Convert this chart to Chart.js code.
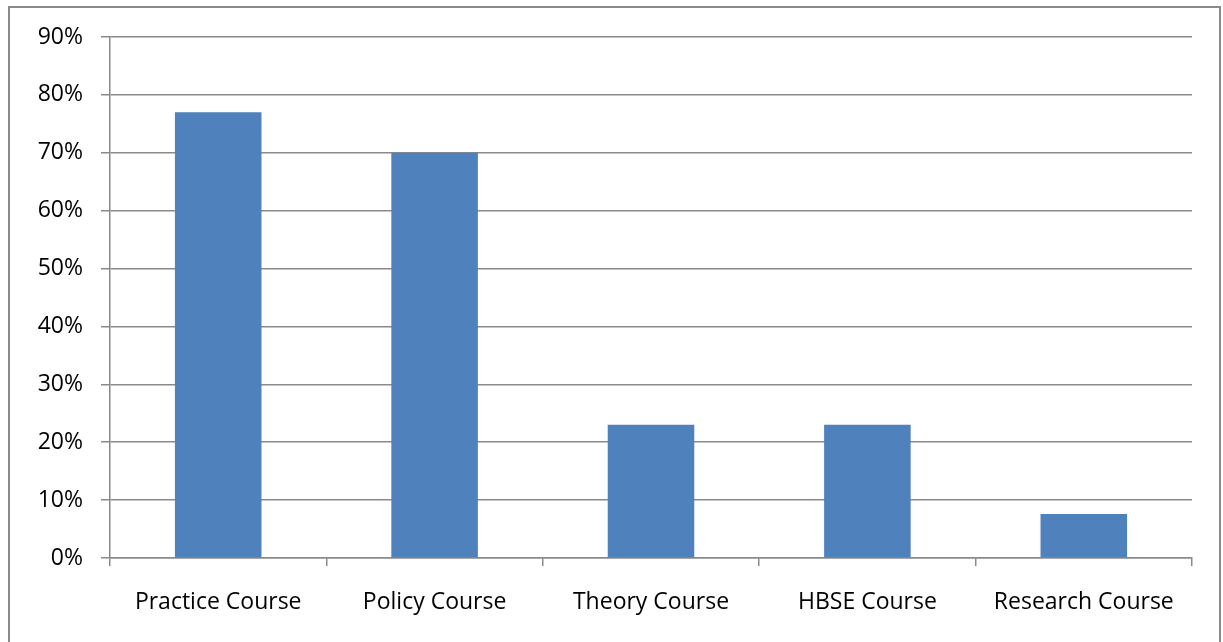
<!DOCTYPE html>
<html>
<head>
<meta charset="utf-8">
<script src="https://cdn.jsdelivr.net/npm/chart.js@4"></script>
<style>
  html, body { margin: 0; padding: 0; background: #fff; }
  #wrap { position: relative; width: 1223px; height: 642px; overflow: hidden; }
  #frame { position: absolute; left: 8px; top: 6px; width: 1209px; height: 700px; border: 2px solid #8a8a8a; pointer-events: none; }
</style>
</head>
<body>
<div id="wrap">
  <canvas id="courseChart" width="1223" height="642"></canvas>
  <div id="frame"></div>
</div>
<script>
const categories = ['Practice Course', 'Policy Course', 'Theory Course', 'HBSE Course', 'Research Course'];
const percentValues = [77, 70, 23, 23, 7.6];
const yTicks = [0, 10, 20, 30, 40, 50, 60, 70, 80, 90];

const ctx = document.getElementById('courseChart');
new Chart(ctx, {
    type: 'bar',
    data: {
        labels: categories,
        datasets: [{
            data: percentValues,
            backgroundColor: '#4F81BD',
            borderWidth: 0,
            barPercentage: 0.4,
            categoryPercentage: 1
        }]
    },
    options: {
        responsive: false,
        animation: false,
        layout: { padding: { top: 37, right: 31, left: 0, bottom: 0 } },
        plugins: { legend: { display: false }, tooltip: { enabled: false } },
        scales: {
            x: {
                offset: true,
                grid: { offset: true, drawOnChartArea: false, color: '#8a8a8a', lineWidth: 1.5, tickLength: 8 },
                border: { color: '#8a8a8a', width: 1.5 },
                ticks: { color: '#000', font: { family: 'Open Sans', size: 23 }, padding: 23, maxRotation: 0 },
                afterFit: s => { s.height = 84; }
            },
            y: {
                min: 0,
                max: 90,
                afterBuildTicks: s => { s.ticks = yTicks.map(v => ({ value: v })); },
                grid: { color: '#8a8a8a', lineWidth: 1.5, tickLength: 9 },
                border: { color: '#8a8a8a', width: 1.5 },
                ticks: { color: '#000', font: { family: 'Open Sans', size: 23 }, padding: 18, callback: v => v + '%' },
                afterFit: s => { s.width = 110; }
            }
        }
    }
});
</script>
</body>
</html>
